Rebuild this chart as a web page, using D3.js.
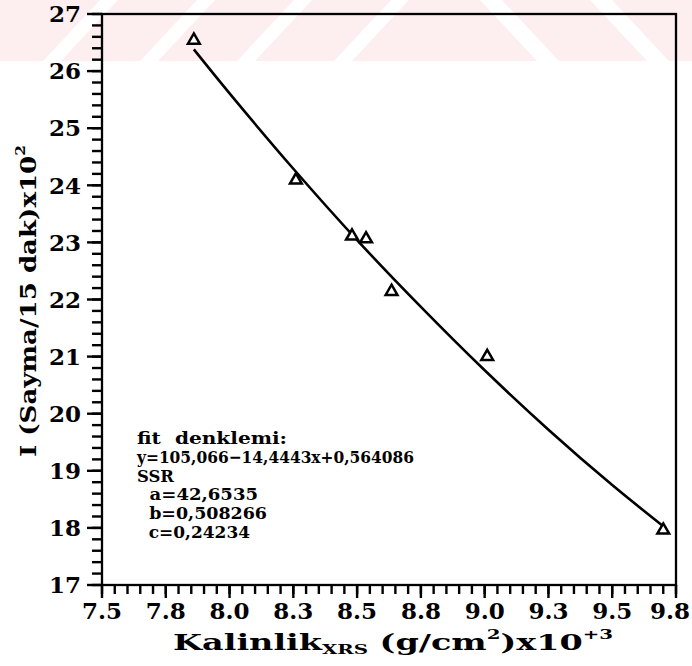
<!DOCTYPE html>
<html><head><meta charset="utf-8">
<script src="https://cdn.jsdelivr.net/npm/d3@7"></script>
<style>
body{margin:0;background:#fff}
svg{display:block}
text{font-family:"DejaVu Serif",serif;font-weight:bold;fill:#000}
</style>
</head><body>
<svg id="c" width="692" height="666"></svg>
<script>
// ---- data ----
const xTicks = [7.5, 7.75, 8.0, 8.25, 8.5, 8.75, 9.0, 9.25, 9.5, 9.75];
const xTickLabels = ["7.5", "7.8", "8.0", "8.3", "8.5", "8.8", "9.0", "9.3", "9.5", "9.8"];
const yTicks = [17, 18, 19, 20, 21, 22, 23, 24, 25, 26, 27];
const thickness = [7.86, 8.26, 8.48, 8.535, 8.635, 9.01, 9.70];
const counts = [26.54, 24.09, 23.11, 23.06, 22.14, 21.0, 17.96];
const fitX = [7.86, 8.0, 8.25, 8.5, 8.75, 9.0, 9.25, 9.5, 9.7];
const fitY = [26.38, 25.61, 24.29, 23.04, 21.87, 20.76, 19.72, 18.75, 18.03];
const fitLines = ["fit  denklemi:", "y=105,066\u221214,4443x+0,564086", "SSR", "  a=42,6535", "  b=0,508266", "  c=0,24234"];
const fitLineWidths = [150, 277, 37, 121, 130, 113];

const svg = d3.select("#c");
const L = 102, R = 676, T = 14, B = 585;
const x = d3.scaleLinear().domain([7.5, 9.75]).range([L, R]);
const y = d3.scaleLinear().domain([17, 27]).range([B, T]);

// faint watermark band at top
const wm = svg.append("g");
wm.append("rect").attr("x", 0).attr("y", 0).attr("width", 692).attr("height", 61).attr("fill", "#fdeef0");
[100, 197, 294, 391].forEach(t => {
  wm.append("polygon").attr("points", `${t},0 ${t+18},0 ${t+18-57},61 ${t-57},61`).attr("fill", "#fff");
});
[480, 590].forEach(t => {
  wm.append("polygon").attr("points", `${t},0 ${t+22},0 ${t+22+57},61 ${t+57},61`).attr("fill", "#fff");
});

// tick labels
svg.selectAll("text.xl").data(xTicks).join("text").attr("class", "xl")
  .attr("x", d => Math.min(x(d), 670)).attr("y", B + 34).attr("text-anchor", "middle").attr("font-size", 23)
  .text((d, i) => xTickLabels[i]);
svg.selectAll("text.yl").data(yTicks).join("text").attr("class", "yl")
  .attr("x", L - 21).attr("y", d => y(d)).attr("dy", "0.36em").attr("text-anchor", "end").attr("font-size", 23)
  .text(d => d3.format("d")(d));

// frame
svg.append("rect").attr("x", L).attr("y", T).attr("width", R - L).attr("height", B - T)
  .attr("fill", "none").attr("stroke", "#000").attr("stroke-width", 2.3);

// fit curve
svg.append("path")
  .datum(fitX.map((d, i) => [d, fitY[i]]))
  .attr("d", d3.line().x(d => x(d[0])).y(d => y(d[1])).curve(d3.curveCatmullRom))
  .attr("fill", "none").attr("stroke", "#000").attr("stroke-width", 2.6);

// points
svg.append("g").selectAll("path").data(thickness).join("path")
  .attr("transform", (d, i) => `translate(${x(d)},${y(counts[i])})`)
  .attr("d", d3.symbol(d3.symbolTriangle, 60))
  .attr("fill", "#fff").attr("stroke", "#000").attr("stroke-width", 2.5);

// annotation
fitLines.forEach((s, i) => {
  svg.append("text").attr("x", 137).attr("y", 444 + i * 18.8).attr("font-size", 17.5)
    .attr("xml:space", "preserve")
    .attr("textLength", fitLineWidths[i]).attr("lengthAdjust", "spacingAndGlyphs")
    .text(s);
});

// x label
const xl = svg.append("text").attr("x", 173).attr("y", 650).attr("font-size", 22)
  .attr("textLength", 440).attr("lengthAdjust", "spacingAndGlyphs");
xl.append("tspan").text("Kalinlik");
xl.append("tspan").attr("font-size", 13).attr("dy", 4).text("XRS");
xl.append("tspan").attr("dy", -4).text(" (g/cm");
xl.append("tspan").attr("font-size", 13).attr("dy", -11).text("2");
xl.append("tspan").attr("dy", 11).text(")x10");
xl.append("tspan").attr("font-size", 13).attr("dy", -11).text("+3");

// y label
const yl = svg.append("text").attr("transform", "translate(36,457) rotate(-90)").attr("font-size", 22)
  .attr("textLength", 312).attr("lengthAdjust", "spacingAndGlyphs");
yl.append("tspan").text("I (Sayma/15 dak)x10");
yl.append("tspan").attr("font-size", 13).attr("dy", -11).text("2");

// ticks, positioned by the scales
const minorX = d3.range(0, 46).map(i => 7.5 + i * 0.05);
const minorY = d3.range(0, 51).map(i => 17 + i * 0.2);
const tg = svg.append("g").attr("stroke", "#000").attr("stroke-width", 2.4).attr("stroke-linecap", "butt");
tg.selectAll("line.mx").data(minorX).join("line").attr("class", "mx")
  .attr("x1", d => x(d)).attr("x2", d => x(d)).attr("y1", B).attr("y2", B + 9);
tg.selectAll("line.Mx").data(xTicks).join("line").attr("class", "Mx")
  .attr("x1", d => x(d)).attr("x2", d => x(d)).attr("y1", B).attr("y2", B + 13);
tg.selectAll("line.my").data(minorY).join("line").attr("class", "my")
  .attr("x1", L - 10).attr("x2", L).attr("y1", d => y(d)).attr("y2", d => y(d));
tg.selectAll("line.My").data(yTicks).join("line").attr("class", "My")
  .attr("x1", L - 15).attr("x2", L).attr("y1", d => y(d)).attr("y2", d => y(d));
</script>
</body></html>
